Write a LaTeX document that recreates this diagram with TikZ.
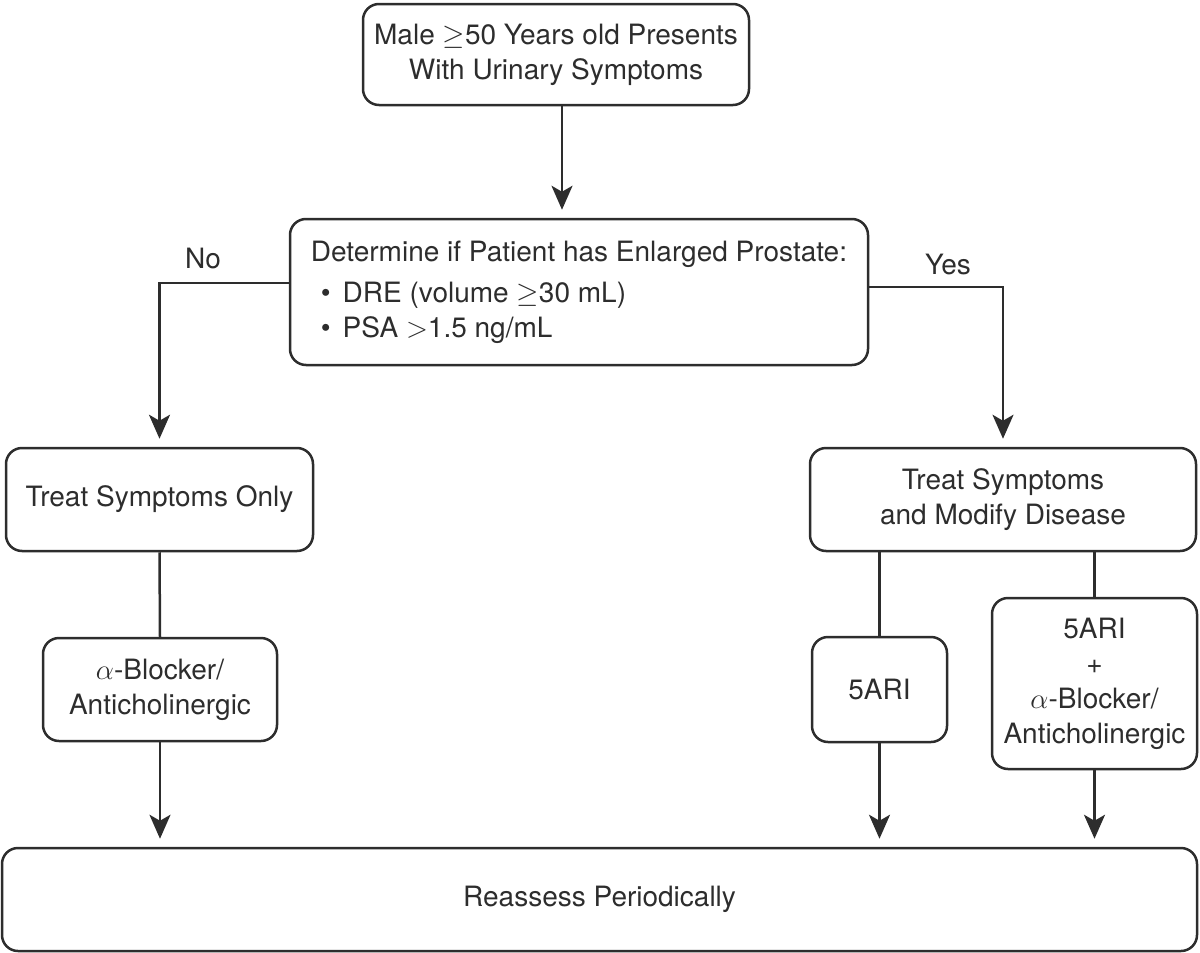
\documentclass[tikz,border=0pt]{standalone}
\usepackage{fontspec}
\setmainfont{TeX Gyre Heros}
\usetikzlibrary{arrows.meta,calc}
\definecolor{ink}{RGB}{45,45,45}

\begin{document}
\begin{tikzpicture}[x=0.5pt, y=-0.5pt,
    every node/.style = {text = ink, font = \fontsize{14}{17.5}\selectfont},
    box/.style = {draw = ink, line width = 1.25pt, rounded corners = 8pt, align = center, inner sep = 0pt},
    link/.style = {draw = ink, line width = 1.25pt},
    arr/.style = {link, -{Stealth[length = 12pt, width = 10.5pt, inset = 3pt]}, shorten > = 4pt}]%
    \useasboundingbox (0, 0) rectangle (1200, 953);
    \node[box, minimum width = 193pt, minimum height = 50.5pt] (male) at (556, 54.5) {Male $\geq$50 Years old Presents\\With Urinary Symptoms};
    \node[box, minimum width = 289pt, minimum height = 73pt, align = left] (prostate) at (579, 292)
        {Determine if Patient has Enlarged Prostate:\\[3pt]
         \hspace*{5pt}\textbullet\hspace{6pt}DRE (volume $\geq$30 mL)\\
         \hspace*{5pt}\textbullet\hspace{6pt}PSA $>$1.5 ng/mL};
    \node[box, minimum width = 153.5pt, minimum height = 51.5pt] (only) at (159.5, 499.5) {Treat Symptoms Only};
    \node[box, minimum width = 193pt, minimum height = 51.5pt] (modify) at (1003, 499.5) {Treat Symptoms\\and Modify Disease};
    \node[box, minimum width = 117pt, minimum height = 51.5pt] (blocker) at (160, 689.5) {$\alpha$-Blocker/\\Anticholinergic};
    \node[box, minimum width = 67.5pt, minimum height = 52.5pt] (ari) at (879.5, 689.5) {5ARI};
    \node[box, minimum width = 102.5pt, minimum height = 85.5pt] (combo) at (1094.5, 683.5) {5ARI\\+\\$\alpha$-Blocker/\\Anticholinergic};
    \node[box, minimum width = 597.5pt, minimum height = 51.5pt] (reassess) at (599.5, 899.5) {Reassess Periodically};
    \draw[arr] ([xshift = 3pt]male.south) -- ([xshift = 3pt]male.south |- prostate.north);
    \draw[arr] ([yshift = 4.5pt]prostate.west) -| (only.north);
    \draw[arr] ([yshift = 2.5pt]prostate.east) -| (modify.north);
    \node (no) at (203, 259) {No};
    \node (yes) at (948, 265) {Yes};
    \draw[link] (only.south) -- (blocker.north);
    \draw[link] (ari.north |- modify.south) -- (ari.north);
    \draw[link] (combo.north |- modify.south) -- (combo.north);
    \draw[arr] (blocker.south) -- (blocker.south |- reassess.north);
    \draw[arr] (ari.south) -- (ari.south |- reassess.north);
    \draw[arr] (combo.south) -- (combo.south |- reassess.north);
\end{tikzpicture}
\end{document}
